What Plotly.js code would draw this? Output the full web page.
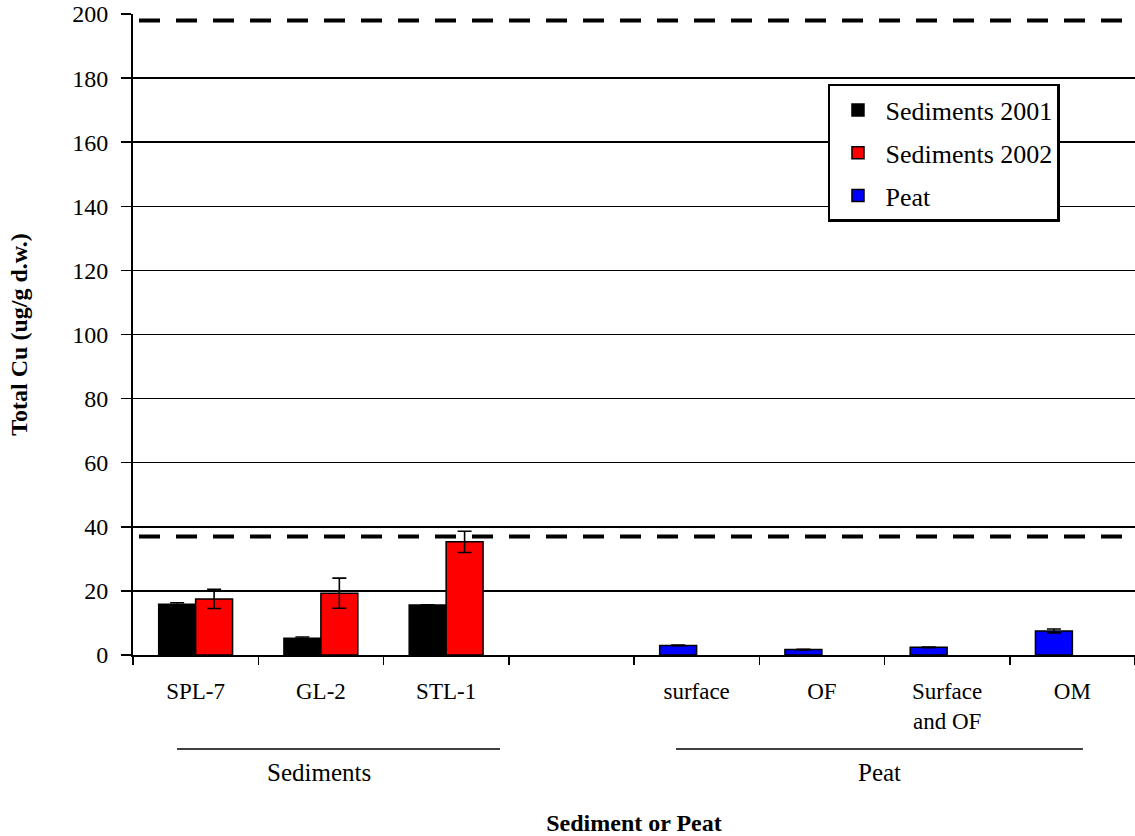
<!DOCTYPE html>
<html>
<head>
<meta charset="utf-8">
<script src="https://cdn.plot.ly/plotly-3.0.1.min.js"></script>
<style>html,body{margin:0;padding:0;background:#fff;}#chart{width:1135px;height:836px;}</style>
</head>
<body>
<div id="chart"></div>
<script>
// Categories (blank slot separates sediments and peat)
const categories = ["SPL-7", "GL-2", "STL-1", " ", "surface", "OF", "Surface<br>and OF", "OM"];
const sedimentSites = ["SPL-7", "GL-2", "STL-1"];
const peatSites = ["surface", "OF", "Surface<br>and OF", "OM"];

// Total Cu (ug/g d.w.)
const sed2001 = [15.8, 5.2, 15.6];
const sed2001Err = [0.5, 0.4, 0.1];
const sed2002 = [17.5, 19.3, 35.3];
const sed2002Err = [3.0, 4.7, 3.3];
const peat = [3.0, 1.7, 2.4, 7.5];
const peatErr = [0.1, 0.1, 0.1, 0.6];

// Guideline reference levels (dashed lines)
const guidelines = [37, 198];

// Group labels under the axis
const groupLabels = ["Sediments", "Peat"];

const FONT = "Liberation Serif";

function errBar(arr) {
  return {type: "data", array: arr, visible: true, color: "#000", thickness: 1.6, width: 7};
}

const traces = [
  {type: "bar", name: "Sediments 2001", x: sedimentSites, y: sed2001, error_y: errBar(sed2001Err),
   offsetgroup: "a", legendgroup: "g1",
   marker: {color: "#000000", line: {color: "#000", width: 1.5}}},
  {type: "bar", name: "Sediments 2002", x: sedimentSites, y: sed2002, error_y: errBar(sed2002Err),
   offsetgroup: "b", legendgroup: "g2",
   marker: {color: "#ff0000", line: {color: "#000", width: 1.5}}},
  {type: "bar", name: "Peat", x: peatSites, y: peat, error_y: errBar(peatErr),
   offsetgroup: "a", legendgroup: "g3",
   marker: {color: "#0000ff", line: {color: "#000", width: 1.5}}}
];

const shapes = guidelines.map(v => ({
  type: "line", xref: "paper", yref: "y", x0: 0.006, x1: 1, y0: v, y1: v,
  line: {color: "#000", width: 4, dash: "21px,16px"}, layer: "above"
}));
// group underlines
shapes.push({type: "line", xref: "paper", yref: "paper", x0: 0.0439, x1: 0.3663, y0: -0.1466, y1: -0.1466, line: {color: "#000", width: 1.5}});
shapes.push({type: "line", xref: "paper", yref: "paper", x0: 0.5419, x1: 0.948, y0: -0.1466, y1: -0.1466, line: {color: "#000", width: 1.5}});

const annotations = [
  {text: groupLabels[0], xref: "paper", yref: "paper", x: 0.1856, y: -0.184, showarrow: false, xanchor: "center", yanchor: "middle", font: {family: FONT, size: 25, color: "#000"}},
  {text: groupLabels[1], xref: "paper", yref: "paper", x: 0.7455, y: -0.184, showarrow: false, xanchor: "center", yanchor: "middle", font: {family: FONT, size: 25, color: "#000"}}
];

const layout = {
  width: 1135, height: 836,
  margin: {l: 133, r: 0, t: 14, b: 181},
  paper_bgcolor: "#fff", plot_bgcolor: "#fff",
  font: {family: FONT, color: "#000"},
  barmode: "group", bargap: 0.41, bargroupgap: 0,
  showlegend: true,
  legend: {
    x: 0.6936, y: 0.8908, xanchor: "left", yanchor: "top",
    bgcolor: "#fff", bordercolor: "#000", borderwidth: 2.5,
    font: {family: FONT, size: 26, color: "#000"},
    traceorder: "grouped", tracegroupgap: 6, itemwidth: 45
  },
  xaxis: {
    type: "category", categoryorder: "array", categoryarray: categories,
    range: [-0.5, 7.5], fixedrange: true,
    showline: true, linecolor: "#000", linewidth: 2,
    ticks: "outside", tickson: "boundaries", ticklen: 8, tickwidth: 1.5, tickcolor: "#000",
    tickfont: {family: FONT, size: 23, color: "#000"},
    ticklabelstandoff: 14,
    showgrid: false, zeroline: false,
    title: {text: "<b>Sediment or Peat</b>", font: {family: FONT, size: 24, color: "#000"}, standoff: 96},
    automargin: false
  },
  yaxis: {
    range: [0, 200], dtick: 20, tick0: 0, fixedrange: true,
    showline: true, linecolor: "#000", linewidth: 2,
    ticks: "outside", ticklen: 10, tickwidth: 1.5, tickcolor: "#000",
    tickfont: {family: FONT, size: 24, color: "#000"},
    ticklabelstandoff: 8,
    showgrid: true, gridcolor: "#000", gridwidth: 1.5,
    zeroline: false,
    title: {text: "<b>Total Cu (ug/g d.w.)</b>", font: {family: FONT, size: 24, color: "#000"}, standoff: 38},
    automargin: false
  },
  shapes: shapes,
  annotations: annotations
};

Plotly.newPlot("chart", traces, layout, {displayModeBar: false, staticPlot: true});
</script>
</body>
</html>
